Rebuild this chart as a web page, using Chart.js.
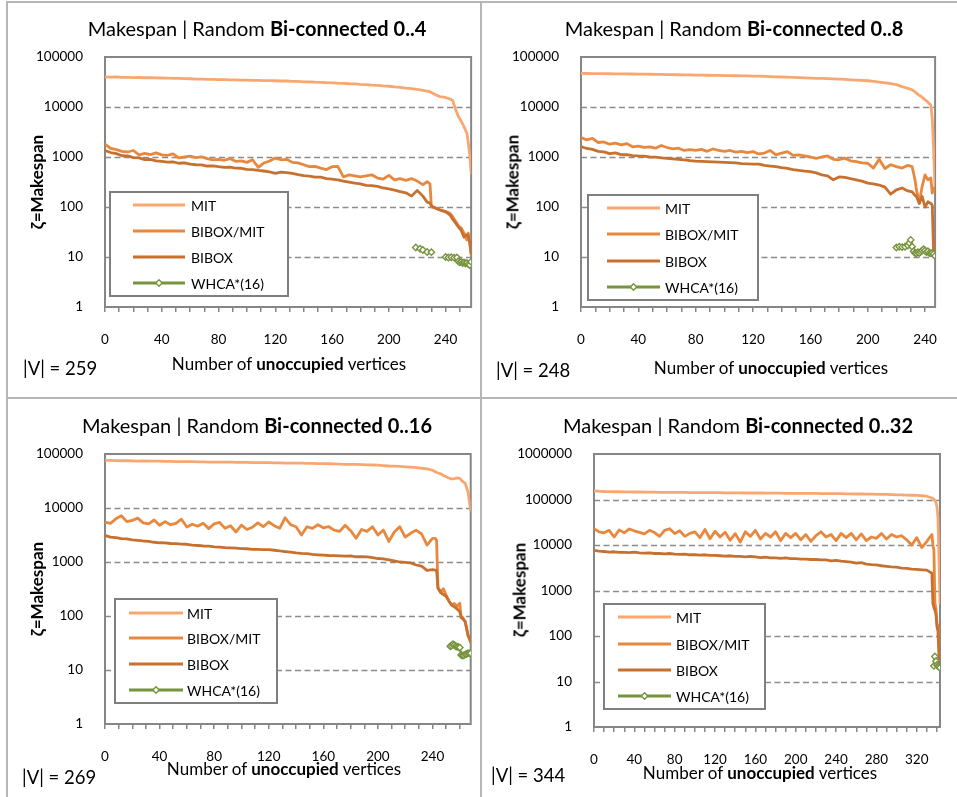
<!DOCTYPE html>
<html>
<head>
<meta charset="utf-8">
<script src="https://cdn.jsdelivr.net/npm/chart.js@4.4.0/dist/chart.umd.min.js"></script>
<style>
  html, body { margin:0; padding:0; background:#fff; }
  body { width:957px; height:797px; position:relative; overflow:hidden; font-family:Lato, "Open Sans", sans-serif; color:#000; }
  canvas { position:absolute; }
  .t { position:absolute; white-space:nowrap; transform:translate(-50%,-50%); z-index:5; }
  .title { font-size:20px; }
  .xt { font-size:17px; }
  .yt { font-size:17px; font-weight:bold; transform:translate(-50%,-50%) rotate(-90deg); }
  .v { position:absolute; white-space:nowrap; font-size:18.5px; transform:translateY(-50%); z-index:5; }
  .ln { position:absolute; background:#b5b5b5; z-index:6; }
</style>
</head>
<body>
<canvas id="c1" width="480" height="398" style="left:0;top:0"></canvas>
<canvas id="c2" width="477" height="398" style="left:480px;top:0"></canvas>
<canvas id="c3" width="480" height="399" style="left:0;top:398px"></canvas>
<canvas id="c4" width="477" height="399" style="left:480px;top:398px"></canvas>

<div class="ln" style="left:6px;top:1px;width:951px;height:2px"></div>
<div class="ln" style="left:6px;top:1px;width:2px;height:796px"></div>
<div class="ln" style="left:480px;top:1px;width:2px;height:796px"></div>
<div class="ln" style="left:6px;top:397px;width:951px;height:2px"></div>

<div class="t title" style="left:257px;top:28px">Makespan | Random <b>Bi-connected 0..4</b></div>
<div class="t title" style="left:734px;top:28px">Makespan | Random <b>Bi-connected 0..8</b></div>
<div class="t title" style="left:257px;top:425px">Makespan | Random <b>Bi-connected 0..16</b></div>
<div class="t title" style="left:738px;top:425px">Makespan | Random <b>Bi-connected 0..32</b></div>

<div class="t yt" style="left:36px;top:182px">ζ=Makespan</div>
<div class="t yt" style="left:512px;top:182px">ζ=Makespan</div>
<div class="t yt" style="left:36px;top:589px">ζ=Makespan</div>
<div class="t yt" style="left:519px;top:590px">ζ=Makespan</div>

<div class="t xt" style="left:289px;top:363px">Number of <b>unoccupied</b> vertices</div>
<div class="t xt" style="left:771px;top:367px">Number of <b>unoccupied</b> vertices</div>
<div class="t xt" style="left:284px;top:768px">Number of <b>unoccupied</b> vertices</div>
<div class="t xt" style="left:760px;top:772px">Number of <b>unoccupied</b> vertices</div>

<div class="v" style="left:23px;top:368px">|V| = 259</div>
<div class="v" style="left:496px;top:370px">|V| = 248</div>
<div class="v" style="left:22px;top:777px">|V| = 269</div>
<div class="v" style="left:491px;top:775px">|V| = 344</div>

<script>
// ---------------- DATA ----------------
const SERIES_NAMES = ['MIT', 'BIBOX/MIT', 'BIBOX', 'WHCA*(16)'];
const Y_TICKS_5 = [1, 10, 100, 1000, 10000, 100000];
const Y_TICKS_6 = [1, 10, 100, 1000, 10000, 100000, 1000000];
const X_LABELS_240 = [0, 40, 80, 120, 160, 200, 240];
const X_LABELS_320 = [0, 40, 80, 120, 160, 200, 240, 280, 320];

// Panel 1: Bi-connected 0..4
const P1_X = [0,4,8,12,16,20,24,28,32,36,40,44,48,52,56,60,64,68,72,76,80,84,88,92,96,100,104,108,112,116,120,124,128,132,136,140,144,148,152,156,160,164,168,172,176,180,184,188,192,196,200,204,208,212,216,220,224,227,229,230,233,236,240,243,245,247,249,251,253,255,256,257,258];
const P1_MIT = [40000,39700,39800,39300,39200,38800,38900,38500,38500,38100,
  38000,37800,37300,37200,36800,36700,36200,36100,35700,35700,
  35400,35300,34900,34900,34500,34500,34100,34100,33700,33700,
  33500,33100,33100,32600,32400,31900,31800,31300,31200,30700,
  30500,30000,29800,29200,29000,28400,28100,27400,27100,26400,
  26000,25200,24800,23900,23400,22400,21600,
  20800,20200,19500,17500,16200,15500,14500,13500,9000,6500,5200,4000,3000,1900,1100,480];
const P1_BIBOXMIT = [1800,1480,1400,1300,1260,1350,1100,1180,1120,1210,
  1100,1080,1150,960,1000,1040,970,1010,930,880,
  900,860,930,820,840,780,880,620,760,830,
  950,880,900,780,760,700,640,650,600,560,
  640,650,400,440,420,400,420,440,380,360,
  430,350,370,340,370,330,280,
  320,290,100,95,88,82,75,64,52,42,38,30,22,30,20,11];
const P1_BIBOX = [1350,1230,1170,1060,1050,970,960,890,900,840,
  820,790,800,750,760,720,700,695,660,665,
  640,620,625,600,595,565,560,540,525,505,
  470,500,485,470,445,425,415,395,395,370,
  360,350,330,315,300,290,270,268,258,240,
  230,218,203,192,165,215,165,
  125,120,105,95,87,80,70,57,48,40,34,25,28,27,20,12];
const P1_WHCA_X = [219,222,224,227,230,235,240,242,244,246,248,249,250,251,252,253,254,255,256,257,258];
const P1_WHCA = [15.5,14.6,13.8,12.6,12.5,null,10,9.8,9.9,9.7,9.8,8.2,7.8,8,7.6,7.8,7.4,7.6,7.2,6.9,8];

// Panel 2: Bi-connected 0..8
const P2_X = [0,4,8,12,16,20,24,28,32,36,40,44,48,52,56,60,64,68,72,76,80,84,88,92,96,100,104,108,112,116,120,124,128,132,136,140,144,148,152,156,160,164,168,172,176,180,184,188,192,196,200,204,208,212,216,220,224,228,231,233,234,236,237,238,240,242,244,245,246,247];
const P2_MIT = [47000,46800,46600,46400,46300,46200,46000,45900,45800,45700,
  45600,45400,45200,45000,44800,44600,44400,44200,44000,43800,
  43600,43400,43200,43000,42800,42600,42400,42200,42000,41800,
  41600,41300,41000,40600,40200,39800,39400,39000,38600,38200,
  37800,37500,37200,36800,36400,36000,35600,35000,34500,34000,
  33500,32500,31500,30500,29500,28000,25500,23500,
  22000,20000,19000,17000,16500,15500,14000,12500,11000,6000,1400,220];
const P2_BIBOXMIT = [2450,2200,2350,1950,2000,1800,1900,1750,1850,1600,
  1650,1550,1600,1500,1700,1550,1450,1500,1350,1400,
  1350,1420,1300,1450,1350,1300,1350,1250,1300,1220,
  1280,1150,1200,1350,1100,1200,1280,1080,1100,1050,
  1000,940,1000,1050,900,880,950,840,810,760,
  750,600,900,590,700,640,600,680,
  640,350,220,118,180,260,440,350,380,190,240,200];
const P2_BIBOX = [1620,1480,1420,1300,1270,1170,1210,1120,1110,1070,
  1050,1040,1000,990,960,940,920,900,880,850,
  830,820,810,800,790,780,770,760,740,730,
  720,720,680,660,640,610,590,560,540,520,
  510,480,440,420,350,400,390,370,350,330,
  300,290,275,250,180,220,240,210,
  200,170,162,118,140,162,100,127,118,110,12,11];
const P2_WHCA_X = [220,222,224,226,228,229,230,231,232,233,234,235,236,237,238,239,240,241,242,243,244,245,246,247];
const P2_WHCA = [15.5,16,15.8,16,17,19,22,16,13,12,11.8,12.5,12,12.8,13.5,14.3,13.5,12.5,13,12,11.8,12,11.5,10.5];

// Panel 3: Bi-connected 0..16
const P3_X = [0,4,8,12,16,20,24,28,32,36,40,44,48,52,56,60,64,68,72,76,80,84,88,92,96,100,104,108,112,116,120,124,128,132,136,140,144,148,152,156,160,164,168,172,176,180,184,188,192,196,200,204,208,212,216,220,224,228,232,236,240,242,243,244,246,248,250,252,254,256,258,260,261,262,264,266,268];
const P3_MIT = [76000,76500,75500,75000,75000,74500,74000,74500,74000,73500,
  73500,73000,73000,72500,72500,72000,72000,71500,71500,71000,
  71000,71000,70500,70500,70000,70000,70000,69500,69500,69000,
  69000,68500,68500,68000,68000,67500,67500,67000,67000,66500,
  66500,66000,65500,65000,64500,64500,64000,63500,63000,62500,
  62000,61000,60000,59500,59000,58000,57000,56000,54500,53000,
  50000,
  47000,45500,44500,43000,40000,38000,36000,34500,35000,36000,35500,33000,31000,28500,20000,9100];
const P3_BIBOXMIT = [5500,5200,6300,7200,5600,5900,6500,5300,5100,6000,
  4800,5600,4900,5200,6200,4450,5000,4600,5200,4150,
  5100,5400,4200,4700,3600,4800,4000,4400,5300,4500,
  5500,4700,4200,6600,4900,4500,3150,4500,4200,4900,
  4300,4500,3900,3700,4800,3800,2750,4000,3700,4500,
  3150,3900,2400,3600,4500,2900,3400,3900,3300,2050,
  2750,
  2750,2500,330,280,320,245,190,160,170,150,172,92,95,78,44,33];
const P3_BIBOX = [3100,2900,2820,2700,2680,2580,2520,2450,2420,2320,
  2270,2260,2200,2190,2150,2130,2050,2020,1980,1960,
  1900,1890,1850,1830,1800,1770,1760,1720,1710,1690,
  1690,1650,1600,1560,1520,1480,1450,1430,1380,1360,
  1340,1320,1310,1300,1290,1300,1250,1260,1240,1200,
  1160,1140,1100,1050,1000,980,960,880,840,700,
  720,
  710,700,330,270,250,230,190,160,148,135,120,95,90,78,44,33];
const P3_WHCA_X = [253,254,255,256,257,258,259,260,261,262,263,264,265,266,267,268];
const P3_WHCA = [27.5,28.5,30,29,27.5,27,26.6,26,19,18.5,18.7,19.5,19.8,20.5,20.3,20.5];

// Panel 4: Bi-connected 0..32
const P4_X = [0,5,10,15,20,25,30,35,40,45,50,55,60,65,70,75,80,85,90,95,100,105,110,115,120,125,130,135,140,145,150,155,160,165,170,175,180,185,190,195,200,205,210,215,220,225,230,235,240,245,250,255,260,265,270,275,280,285,290,295,300,305,310,315,320,325,330,335,336,337,338,339,340,341,342,343];
const P4_MIT = [155000,152000,150000,149000,148000,148000,147000,147000,146000,146000,
  145000,145000,145000,144000,144000,144000,143000,143000,143000,142000,
  142000,142000,141000,141000,141000,141000,140000,140000,140000,140000,
  139000,139000,139000,139000,138000,138000,138000,138000,137000,137000,
  137000,137000,136000,136000,136000,135000,135000,134000,134000,134000,
  133000,133000,132000,132000,131000,131000,130000,129000,129000,128000,
  127000,126000,125000,124000,123000,121000,118000,108000,
  105000,100000,94000,85000,70000,40000,5000,520];
const P4_BIBOXMIT = [22800,19400,18500,21000,15000,21500,18500,22500,20500,19000,
  17500,21000,18800,15500,21000,22800,17800,20500,15500,18000,
  19500,14500,22000,13700,20000,15000,19000,12700,17800,11600,
  19500,15500,21000,13500,18000,15000,19500,12500,18000,14500,
  18000,13000,17000,12000,16000,19500,15000,17000,12500,18000,
  14500,18000,13000,17500,12500,15000,14000,18000,13500,17000,
  15000,16000,13000,10000,14500,8800,12000,17000,
  10000,7700,520,400,190,160,112,25];
const P4_BIBOX = [7600,7300,7200,7000,7100,6900,6900,6800,7000,6700,
  6600,6700,6500,6500,6400,6500,6300,6200,6300,6100,
  6100,6000,6100,5900,5900,5800,5700,5800,5600,5600,
  5500,5600,5500,5300,5400,5200,5200,5100,5200,5000,
  5000,4900,4900,4800,4800,4700,4700,4500,4600,4400,
  4300,4200,4000,4100,3800,3700,3650,3500,3400,3300,
  3250,3100,3050,2950,2900,2850,2800,2400,
  520,420,370,300,160,130,35,20];
const P4_WHCA_X = [337,338,339,340,341,342,343];
const P4_WHCA = [22,35.5,28,23,22,21,20];

// ---------------- STYLE ----------------
const COLORS = ['#F9A770', '#E8883E', '#C8712F', '#77933C'];
const FONT = 'Lato, "Open Sans", sans-serif';
Chart.defaults.font.family = FONT;
Chart.defaults.color = '#000';

function pts(xs, ys) { return xs.map((x, i) => ({ x: x, y: ys[i] })); }

const framePlugin = {
  id: 'frame',
  beforeDatasetsDraw(chart, args, opts) {
    const ctx = chart.ctx, a = chart.chartArea, ys = chart.scales.y;
    const vals = opts.yTicks;
    ctx.save();
    ctx.strokeStyle = '#8c8c8c';
    ctx.lineWidth = 1.3;
    ctx.setLineDash([6, 3.5]);
    for (let i = 1; i < vals.length - 1; i++) {
      const y = Math.round(ys.getPixelForValue(vals[i])) + 0.5;
      ctx.beginPath(); ctx.moveTo(a.left, y); ctx.lineTo(a.right, y); ctx.stroke();
    }
    ctx.setLineDash([]);
    ctx.strokeStyle = '#868686';
    ctx.lineWidth = 2;
    ctx.strokeRect(a.left, a.top, a.right - a.left, a.bottom - a.top);
    ctx.restore();
  },
  afterDatasetsDraw(chart, args, opts) {
    const ctx = chart.ctx, L = opts.legend;
    ctx.save();
    ctx.fillStyle = '#fff';
    ctx.fillRect(L.x, L.y, L.w, L.h);
    ctx.strokeStyle = '#7f7f7f';
    ctx.lineWidth = 2;
    ctx.strokeRect(L.x, L.y, L.w, L.h);
    chart.data.datasets.forEach((ds, i) => {
      const y = L.rows[i];
      ctx.strokeStyle = ds.borderColor;
      ctx.lineWidth = 3;
      ctx.beginPath(); ctx.moveTo(L.l1, y); ctx.lineTo(L.l2, y); ctx.stroke();
      if (ds.pointStyle === 'rectRot') {
        const cx = (L.l1 + L.l2) / 2, r = 3.2;
        ctx.fillStyle = '#fff';
        ctx.lineWidth = 1.4;
        ctx.beginPath();
        ctx.moveTo(cx, y - r); ctx.lineTo(cx + r, y); ctx.lineTo(cx, y + r); ctx.lineTo(cx - r, y); ctx.closePath();
        ctx.fill(); ctx.stroke();
      }
      ctx.fillStyle = '#000';
      ctx.font = '14px ' + FONT;
      ctx.textBaseline = 'middle';
      ctx.textAlign = 'left';
      ctx.fillText(ds.label, L.tx, y + 1);
    });
    ctx.restore();
  }
};

function makeChart(id, cfg) {
  const cv = document.getElementById(id);
  const W = cv.width, H = cv.height, A = cfg.area;
  const datasets = [
    { label: SERIES_NAMES[0], data: pts(cfg.x, cfg.mit), borderColor: COLORS[0], borderWidth: 2.8, pointRadius: 0, order: 3 },
    { label: SERIES_NAMES[1], data: pts(cfg.x, cfg.bm), borderColor: COLORS[1], borderWidth: 2.8, pointRadius: 0, order: 2 },
    { label: SERIES_NAMES[2], data: pts(cfg.x, cfg.b), borderColor: COLORS[2], borderWidth: 2.8, pointRadius: 0, order: 1 },
    { label: SERIES_NAMES[3], data: pts(cfg.wx, cfg.w), borderColor: COLORS[3], borderWidth: 2.2, pointStyle: 'rectRot',
      pointRadius: 3.2, pointBorderWidth: 1.4, pointBackgroundColor: '#fff', pointBorderColor: COLORS[3], spanGaps: false, order: 0 }
  ];
  const xMax = cfg.x[cfg.x.length - 1];
  return new Chart(cv, {
    type: 'line',
    data: { datasets: datasets },
    options: {
      responsive: false, animation: false, devicePixelRatio: 1,
      events: [],
      layout: { padding: { left: 0, top: A.t, right: W - A.r, bottom: 0 } },
      elements: { line: { tension: 0, borderCapStyle: 'round', borderJoinStyle: 'round' } },
      plugins: {
        legend: { display: false }, tooltip: { enabled: false }, title: { display: false },
        frame: { legend: cfg.legend, yTicks: cfg.yTicks }
      },
      scales: {
        x: {
          type: 'linear', min: 0, max: xMax,
          grid: { display: true, drawOnChartArea: false, drawTicks: true, tickLength: 5, color: '#868686', lineWidth: 1.5 },
          border: { display: false },
          ticks: {
            autoSkip: false, maxRotation: 0, minRotation: 0, padding: 20,
            font: { size: 13.5, family: FONT }, color: '#000',
            callback: (v) => cfg.xLabels.includes(v) ? String(v) : ''
          },
          afterBuildTicks: (s) => { const t = []; for (let v = 0; v <= xMax; v += 10) t.push({ value: v }); s.ticks = t; },
          afterFit: (s) => { s.height = H - A.b; }
        },
        y: {
          type: 'logarithmic', min: cfg.yTicks[0], max: cfg.yTicks[cfg.yTicks.length - 1],
          grid: { display: false, drawTicks: false },
          border: { display: false },
          ticks: {
            autoSkip: false, padding: 22,
            font: { size: 13.5, family: FONT }, color: '#000',
            callback: (v) => String(v)
          },
          afterBuildTicks: (s) => { s.ticks = cfg.yTicks.map(v => ({ value: v })); },
          afterFit: (s) => { s.width = A.l; }
        }
      }
    },
    plugins: [framePlugin]
  });
}

makeChart('c1', {
  x: P1_X, mit: P1_MIT, bm: P1_BIBOXMIT, b: P1_BIBOX, wx: P1_WHCA_X, w: P1_WHCA,
  yTicks: Y_TICKS_5, xLabels: X_LABELS_240,
  area: { l: 105, r: 473, t: 57, b: 307 },
  legend: { x: 110, y: 192, w: 178, h: 104, rows: [205, 231, 257, 283], l1: 133, l2: 185, tx: 191 }
});
makeChart('c2', {
  x: P2_X, mit: P2_MIT, bm: P2_BIBOXMIT, b: P2_BIBOX, wx: P2_WHCA_X, w: P2_WHCA,
  yTicks: Y_TICKS_5, xLabels: X_LABELS_240,
  area: { l: 101, r: 470, t: 57, b: 307 },
  legend: { x: 108, y: 195, w: 170, h: 105, rows: [208, 234, 261, 287], l1: 127, l2: 180, tx: 185 }
});
makeChart('c3', {
  x: P3_X, mit: P3_MIT, bm: P3_BIBOXMIT, b: P3_BIBOX, wx: P3_WHCA_X, w: P3_WHCA,
  yTicks: Y_TICKS_5, xLabels: X_LABELS_240,
  area: { l: 105, r: 473, t: 56, b: 326 },
  legend: { x: 115, y: 201, w: 162, h: 104, rows: [215, 240, 266, 292], l1: 129, l2: 183, tx: 187 }
});
makeChart('c4', {
  x: P4_X, mit: P4_MIT, bm: P4_BIBOXMIT, b: P4_BIBOX, wx: P4_WHCA_X, w: P4_WHCA,
  yTicks: Y_TICKS_6, xLabels: X_LABELS_320,
  area: { l: 114, r: 473, t: 56, b: 329 },
  legend: { x: 124, y: 206, w: 161, h: 105, rows: [219, 246, 272, 298], l1: 138, l2: 191, tx: 196 }
});
</script>
</body>
</html>
